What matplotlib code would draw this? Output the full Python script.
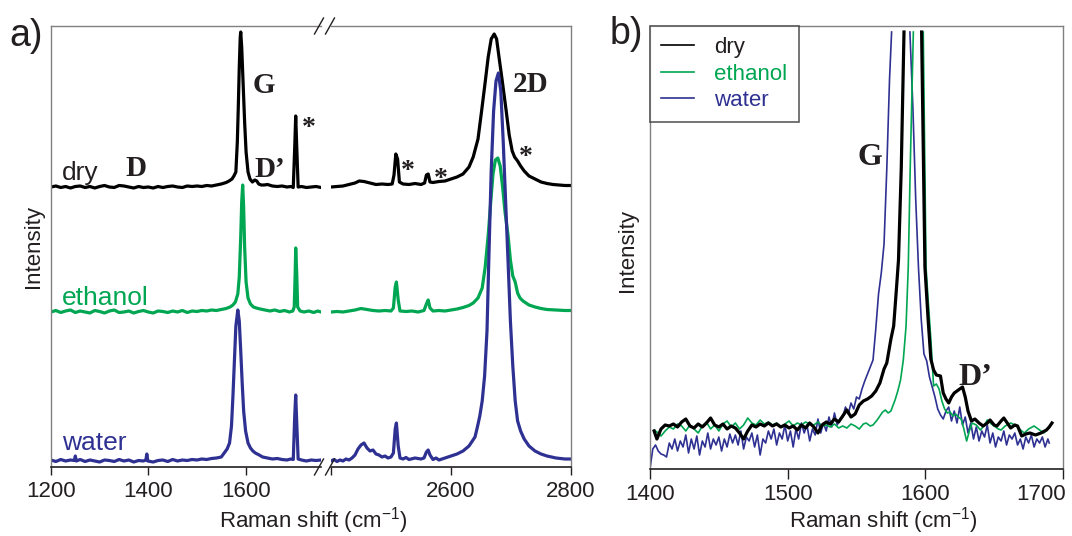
import numpy as np
import matplotlib
matplotlib.use('Agg')
import matplotlib.pyplot as plt
from matplotlib.lines import Line2D
from matplotlib.transforms import ScaledTranslation

plt.rcParams['font.family'] = 'Liberation Sans'
plt.rcParams['mathtext.fontset'] = 'custom'
plt.rcParams['mathtext.rm'] = 'Liberation Sans'
plt.rcParams['mathtext.it'] = 'Liberation Sans:italic'

BLACK = '#000000'
GREEN = '#00a651'
BLUE = '#2e3192'
TEXT = '#231f20'
GRAY = '#808080'

# ---- panel a, low wavenumber part (1200-1755 cm-1), intensity above own baseline ----
dry_l_x = [1200, 1210, 1220, 1230, 1240, 1250, 1260, 1270, 1280, 1290,
           1300, 1310, 1320, 1330, 1340, 1350, 1360, 1370, 1380, 1390,
           1400, 1410, 1420, 1430, 1440, 1450, 1460, 1470, 1480, 1490,
           1500, 1510, 1520, 1530, 1540, 1550, 1560, 1566, 1572, 1576,
           1580, 1583, 1585, 1587, 1589, 1590, 1592, 1594, 1596, 1598,
           1601, 1605, 1609, 1614, 1619, 1623, 1627, 1632, 1638, 1645,
           1655, 1665, 1675, 1685, 1693, 1698, 1701, 1703, 1705, 1708,
           1715, 1725, 1735, 1745, 1755]
dry_l_y = [0, 1, -0.5, 0.5, -1, 0.5, 1, -0.5, 0.5, -1,
           0.5, 1.5, 0, -0.5, 1.5, 1, 0, -1, 0.5, -0.5,
           0, -1, 0.5, -0.5, 0.5, 1, 0, -0.5, 1, 0.5,
           1, 0.5, 1.5, 1, 2, 3, 4.5, 6, 8, 11,
           15, 45, 80, 120, 150, 155, 140, 115, 90, 65,
           35, 15, 8, 5, 7, 6, 3, 2, 2, 2.5,
           1, 0.5, 1, 0, 0.5, -0.5, 40, 71, 42, 0,
           0.5, -0.5, 0, 0.5, -0.5]

eth_l_x = [1200, 1210, 1220, 1230, 1240, 1250, 1260, 1270, 1280, 1290,
           1300, 1310, 1320, 1330, 1340, 1350, 1360, 1370, 1380, 1390,
           1400, 1410, 1420, 1430, 1440, 1450, 1460, 1470, 1480, 1490,
           1500, 1510, 1520, 1530, 1540, 1550, 1560, 1568, 1574, 1579,
           1584, 1587, 1590, 1592, 1594, 1596, 1598, 1601, 1605, 1610,
           1616, 1622, 1630, 1640, 1650, 1660, 1670, 1680, 1690, 1697,
           1700, 1702, 1703, 1705, 1707, 1712, 1720, 1730, 1740, 1748,
           1755]
eth_l_y = [0, 1.5, -0.5, 1, 2, -0.5, 1, 0, -1, 1.5,
           0.5, -1, 1, 2, -0.5, 0, 1, -1, 0.5, 1.5,
           0, -1, 1, 0.5, -0.5, 1, 0, 1.5, -0.5, 1,
           0.5, 1.5, 1, 2, 1.5, 2.5, 3.5, 5, 7, 10,
           18, 35, 75, 110, 127, 105, 65, 30, 14, 8,
           5, 4, 3, 2, 1, 2, 0.5, 1.5, 0, 1,
           5, 40, 64, 40, 5, 1, 0, 1, -0.5, 1,
           0]

wat_l_x = [1200, 1210, 1220, 1230, 1240, 1248, 1250, 1252, 1260, 1270,
           1280, 1290, 1300, 1310, 1320, 1330, 1340, 1350, 1360, 1370,
           1380, 1390, 1395, 1397, 1399, 1410, 1420, 1430, 1440, 1450,
           1460, 1470, 1480, 1490, 1500, 1510, 1520, 1530, 1540, 1550,
           1556, 1562, 1567, 1571, 1574, 1577, 1580, 1584, 1587, 1590,
           1593, 1596, 1600, 1605, 1610, 1615, 1620, 1628, 1635, 1645,
           1655, 1665, 1675, 1685, 1693, 1698, 1701, 1703, 1705, 1708,
           1715, 1725, 1735, 1745, 1755]
wat_l_y = [1, -0.5, 1.5, 0, 1, 0.5, 5, 0, 1.5, -0.5,
           1, 0, -1, 1, 0.5, -0.5, 1.5, 0, 1, -1,
           0.5, 0, 1, 7, 0, -1, 0.5, 1, -0.5, 1.5,
           0, 1, 0.5, 1.5, 1, 2, 1.5, 2.5, 3, 4,
           8, 12, 18, 35, 65, 100, 135, 151, 140, 110,
           78, 50, 30, 18, 13, 10, 8, 6, 4, 3,
           2, 2.5, 1.5, 1, 2, 1.5, 45, 66, 40, 2,
           1, 0, 1, 0.5, 1]

# ---- panel a, 2D region (2400-2800 cm-1) ----
dry_r_x = [2400, 2410, 2420, 2430, 2440, 2447, 2455, 2465, 2475, 2485,
           2495, 2502, 2505, 2508, 2511, 2514, 2520, 2530, 2540, 2550,
           2556, 2559, 2562, 2565, 2570, 2580, 2590, 2600, 2610, 2620,
           2630, 2637, 2645, 2651, 2657, 2662, 2667, 2672, 2676, 2680,
           2685, 2692, 2697, 2702, 2706, 2711, 2716, 2722, 2730, 2740,
           2750, 2760, 2770, 2780, 2790, 2800]
dry_r_y = [0, 0.5, 1, 2.5, 4, 6, 5.5, 4, 2.5, 3,
           2.5, 3, 12, 33, 28, 5, 3, 2.5, 3.5, 2.5,
           4, 12, 13, 5, 4.5, 5.5, 6, 8, 10, 13,
           20, 30, 48, 76, 105, 130, 148, 153, 148, 130,
           108, 76, 52, 36, 30, 26, 21, 16, 11, 8,
           5, 3.5, 2.5, 2, 1.5, 1.5]

eth_r_x = [2400, 2410, 2420, 2430, 2440, 2450, 2460, 2470, 2480, 2490,
           2500, 2504, 2507, 2509, 2512, 2515, 2525, 2535, 2545, 2555,
           2559, 2562, 2565, 2570, 2580, 2590, 2600, 2610, 2620, 2630,
           2637, 2645, 2652, 2657, 2662, 2666, 2670, 2674, 2678, 2682,
           2686, 2690, 2695, 2699, 2703, 2707, 2711, 2715, 2720, 2730,
           2740, 2750, 2760, 2775, 2790, 2800]
eth_r_y = [0, 0.5, 0, 1, 2, 3.5, 2.5, 1.5, 1, 1.5,
           1, 4, 25, 30, 12, 1, 0.5, 1, 0, 1.5,
           8, 12, 4, 1, 1.5, 1, 2, 3, 4.5, 6.5,
           9, 14, 24, 45, 77, 108, 138, 152, 154, 146,
           125, 100, 77, 52, 36, 30, 19, 14, 11, 7,
           5, 3.5, 2.5, 2, 1.5, 1.5]

wat_r_x = [2400, 2405, 2410, 2415, 2420, 2425, 2430, 2435, 2440, 2445,
           2450, 2455, 2460, 2465, 2470, 2475, 2480, 2485, 2490, 2495,
           2500, 2504, 2507, 2509, 2512, 2515, 2520, 2525, 2530, 2540,
           2550, 2555, 2559, 2562, 2565, 2570, 2575, 2580, 2590, 2600,
           2610, 2620, 2630, 2640, 2644, 2648, 2652, 2656, 2660, 2663,
           2667, 2671, 2675, 2679, 2683, 2687, 2691, 2695, 2699, 2703,
           2707, 2711, 2716, 2722, 2730, 2740, 2750, 2760, 2775, 2790,
           2800]
wat_r_y = [0, 1.5, -0.5, 1, 0, 2, 1, 3, 6, 12,
           16, 18, 13, 10, 11, 7, 6, 4, 5, 3,
           4, 8, 32, 38, 15, 3, 2, 3.5, 1.5, 3,
           2, 3, 9, 11, 6, 1.5, 3, 1, 3, 5,
           7, 10, 15, 24, 34, 45, 60, 85, 130, 201,
           290, 350, 380, 388, 370, 320, 260, 201, 140, 95,
           60, 40, 30, 22, 15, 10, 7, 5, 3, 2,
           2]

# vertical offsets of the stacked spectra in panel a
off_dry, off_eth, off_wat = 280, 155, 6

# ---- panel b, zoom on G / D' (nan = top of peak off scale) ----
dry_b_x = [1403, 1405, 1408, 1411, 1414, 1417, 1420, 1423, 1426, 1429,
           1432, 1435, 1438, 1441, 1444, 1447, 1450, 1453, 1456, 1459,
           1462, 1465, 1468, 1471, 1474, 1477, 1480, 1483, 1486, 1489,
           1492, 1495, 1498, 1501, 1504, 1507, 1510, 1513, 1516, 1519,
           1522, 1525, 1528, 1531, 1534, 1537, 1540, 1543, 1546, 1549,
           1552, 1555, 1558, 1561, 1564, 1567, 1570, 1572, 1575, 1577,
           1579, 1580.5, 1582.5, 1584.5, 1591, 1597.3, 1599.7, 1602, 1604, 1606,
           1608, 1611, 1613, 1615, 1617, 1619, 1621, 1623, 1625, 1627,
           1629, 1631, 1633.5, 1636, 1639, 1642, 1645, 1647, 1650, 1652,
           1655, 1657, 1660, 1662, 1665, 1667, 1670, 1673, 1676, 1680,
           1684, 1688, 1690, 1692]
dry_b_y = [38, 30, 40, 44, 43, 45, 42, 47, 50, 43,
           41, 45, 42, 46, 51, 44, 42, 45, 40, 43,
           41, 36, 30, 38, 44, 42, 45, 43, 46, 43,
           45, 42, 44, 41, 43, 39, 44, 41, 46, 42,
           36, 44, 47, 45, 50, 47, 53, 59, 52, 55,
           64, 68, 70, 73, 78, 86, 100, 106, 130, 143,
           180, 209, 300, 437, np.nan, 437, 202, 150, 110, 99,
           94, 93, 76, 70, 66, 72, 76, 78, 80, 82,
           72, 58, 48, 50, 46, 43, 46, 49, 44, 43,
           48, 51, 45, 41, 44, 43, 33, 35, 36, 34,
           36, 39, 42, 46]

eth_b_x = [1403, 1406, 1408, 1411, 1414, 1417, 1420, 1423, 1426, 1429,
           1432, 1435, 1438, 1441, 1444, 1447, 1450, 1453, 1456, 1459,
           1462, 1465, 1468, 1471, 1474, 1477, 1480, 1483, 1486, 1489,
           1492, 1495, 1498, 1501, 1504, 1507, 1510, 1513, 1516, 1519,
           1522, 1525, 1528, 1531, 1534, 1537, 1540, 1543, 1546, 1549,
           1552, 1555, 1557, 1560, 1562, 1565, 1567, 1569, 1571, 1573,
           1575, 1578, 1580, 1582, 1584, 1586, 1587.6, 1589, 1591.3, 1595,
           1598.5, 1600.5, 1602, 1604, 1606, 1608, 1610, 1612, 1614, 1616,
           1618, 1620, 1622, 1624, 1626, 1628, 1630, 1632, 1634, 1637,
           1640, 1643, 1645, 1648, 1650, 1653, 1655, 1658, 1662, 1665,
           1667, 1670, 1672, 1675, 1679, 1682, 1686, 1689, 1692]
eth_b_y = [39, 36, 33, 38, 42, 40, 45, 43, 38, 44,
           40, 36, 43, 47, 40, 44, 38, 45, 48, 42,
           46, 40, 44, 51, 46, 44, 49, 45, 47, 44,
           46, 42, 45, 48, 43, 46, 44, 47, 45, 44,
           47, 43, 44, 42, 45, 41, 43, 41, 45, 43,
           40, 45, 46, 43, 44, 49, 53, 57, 59, 56,
           58, 69, 78, 89, 109, 143, 202, 300, 437, np.nan,
           437, 202, 170, 130, 83, 85, 80, 68, 60, 56,
           57, 53, 55, 52, 50, 40, 28, 38, 46, 44,
           39, 44, 49, 45, 43, 40, 39, 43, 46, 44,
           42, 38, 36, 40, 43, 40, 36, 40, 46]

wat_b_x = [1400, 1402, 1404, 1406, 1408, 1410, 1412, 1414, 1416, 1418,
           1420, 1422, 1424, 1426, 1428, 1430, 1432, 1434, 1436, 1438,
           1440, 1442, 1444, 1446, 1448, 1450, 1452, 1454, 1456, 1458,
           1460, 1462, 1464, 1466, 1468, 1470, 1472, 1474, 1476, 1478,
           1480, 1482, 1484, 1486, 1488, 1490, 1492, 1494, 1496, 1498,
           1500, 1502, 1504, 1506, 1508, 1510, 1512, 1514, 1516, 1518,
           1520, 1522, 1524, 1526, 1528, 1530, 1532, 1534, 1536, 1538,
           1540, 1542, 1544, 1546, 1548, 1550, 1552, 1554, 1556, 1558,
           1560, 1562, 1564, 1566, 1568, 1570, 1572, 1574, 1575.5, 1582,
           1588.8, 1591, 1593, 1595, 1597, 1599, 1601, 1603, 1605, 1607,
           1609, 1611, 1613, 1615, 1617, 1619, 1621, 1623, 1625, 1627,
           1629, 1631, 1633, 1635, 1637, 1639, 1641, 1643, 1645, 1647,
           1649, 1651, 1653, 1655, 1657, 1659, 1661, 1663, 1665, 1667,
           1669, 1671, 1673, 1675, 1677, 1679, 1681, 1683, 1685, 1687,
           1689, 1690]
wat_b_y = [0, 20, 24, 18, 15, 14, 12, 26, 20, 30,
           18, 28, 22, 34, 16, 30, 20, 33, 14, 28,
           22, 36, 20, 30, 24, 32, 18, 30, 22, 35,
           26, 34, 24, 38, 20, 32, 28, 36, 22, 34,
           14, 30, 26, 38, 30, 40, 24, 36, 30, 44,
           28, 38, 22, 40, 30, 46, 36, 44, 28, 40,
           34, 50, 36, 46, 38, 52, 42, 56, 44, 50,
           52, 62, 55, 66, 60, 72, 70, 80, 88, 95,
           102, 109, 140, 175, 196, 225, 300, 390, 437, np.nan,
           437, 360, 270, 202, 150, 115, 108, 92, 82, 72,
           60, 54, 50, 58, 62, 48, 58, 46, 62, 44,
           52, 36, 46, 30, 42, 28, 38, 32, 44, 26,
           36, 22, 32, 28, 38, 24, 34, 30, 36, 24,
           30, 20, 32, 26, 34, 22, 30, 26, 32, 22,
           30, 26]

W, H = 1072, 536
fig = plt.figure(figsize=(W / 100, H / 100), dpi=100)


def rect(x0, y0, x1, y1):
    return [x0 / W, 1 - y1 / H, (x1 - x0) / W, (y1 - y0) / H]


ax1 = fig.add_axes(rect(51, 26, 321, 467))
ax2 = fig.add_axes(rect(331, 26, 571, 467))
axb = fig.add_axes(rect(650, 26, 1063, 469))

thick = dict(lw=2.3, solid_joinstyle='round', solid_capstyle='round')
for ax, parts in [(ax1, [(dry_l_x, dry_l_y, off_dry, BLACK),
                         (eth_l_x, eth_l_y, off_eth, GREEN),
                         (wat_l_x, wat_l_y, off_wat, BLUE)]),
                  (ax2, [(dry_r_x, dry_r_y, off_dry, BLACK),
                         (eth_r_x, eth_r_y, off_eth, GREEN),
                         (wat_r_x, wat_r_y, off_wat, BLUE)])]:
    for x, y, off, c in parts:
        ax.plot(x, np.array(y) + off, color=c, **thick)
    ax.set_ylim(0, 441)
    ax.set_yticks([])
    for s in ['top', 'left', 'right']:
        ax.spines[s].set_color(GRAY)
        ax.spines[s].set_linewidth(1.0)
    ax.spines['bottom'].set_color(TEXT)
    ax.spines['bottom'].set_linewidth(1.2)
    ax.tick_params(axis='x', direction='out', length=6, width=1.0,
                   colors=TEXT, labelsize=16, pad=4)

ax1.set_xlim(1200, 1755)
ax2.set_xlim(2400, 2800)
ax1.spines['right'].set_visible(False)
ax2.spines['left'].set_visible(False)
ax1.set_xticks([1200, 1400, 1600])
ax2.set_xticks([2400, 2600, 2800])
ax2.set_xticklabels(['', '2600', '2800'])

# axis break marks
for xc in [319, 330]:
    for yc in [26, 467]:
        fig.add_artist(Line2D([(xc - 4.5) / W, (xc + 4.5) / W],
                              [1 - (yc + 8) / H, 1 - (yc - 8) / H],
                              color=TEXT, lw=1.0))

# panel a labels
lab = dict(fontsize=19, va='baseline')
ax1.text(1222, 287, 'dry', color=TEXT, **lab)
ax1.text(1222, 162, 'ethanol', color=GREEN, **lab)
ax1.text(1222, 17, 'water', color=BLUE, **lab)

pk = dict(family='Liberation Serif', weight='bold', color=TEXT, va='baseline')
ax1.text(1352, 291, 'D', fontsize=21, **pk)
ax1.text(1615, 374, 'G', fontsize=21, **pk)
ax1.text(1619, 290, 'D\u2019', fontsize=21, **pk)
ax1.text(1716, 332, '*', fontsize=20, **pk)
ax2.text(2517, 289, '*', fontsize=20, **pk)
ax2.text(2572, 281, '*', fontsize=20, **pk)
ax2.text(2713, 303, '*', fontsize=20, **pk)
ax2.text(2703, 375, '2D', fontsize=21, **pk)

# panel b
axb.plot(wat_b_x, wat_b_y, color=BLUE, lw=1.2)
axb.plot(eth_b_x, eth_b_y, color=GREEN, lw=1.2)
axb.plot(dry_b_x, dry_b_y, color=BLACK, lw=2.3, solid_joinstyle='round')
axb.set_xlim(1400, 1700)
axb.set_ylim(0, 443)
axb.set_yticks([])
axb.set_xticks([1400, 1500, 1600, 1700])
for s in ['top', 'left', 'right']:
    axb.spines[s].set_color(GRAY)
    axb.spines[s].set_linewidth(1.0)
axb.spines['bottom'].set_color(TEXT)
axb.spines['bottom'].set_linewidth(1.2)
axb.tick_params(axis='x', direction='out', length=7.5, width=1.0,
                colors=TEXT, labelsize=16, pad=3)
# last tick label is pulled in so it stays inside the figure
last = axb.get_xticklabels()[-1]
last.set_transform(last.get_transform() +
                   ScaledTranslation(-0.22, 0, fig.dpi_scale_trans))
axb.text(1551, 304, 'G', fontsize=23, **pk)
axb.text(1623.7, 84, 'D\u2019', fontsize=23, **pk)

handles = [Line2D([], [], color=BLACK, lw=1.2),
           Line2D([], [], color=GREEN, lw=1.2),
           Line2D([], [], color=BLUE, lw=1.2)]
leg = axb.legend(handles, ['dry', 'ethanol', 'water'], loc='upper left',
                 bbox_to_anchor=(0, 1), borderaxespad=0, fancybox=False,
                 edgecolor='#333333', fontsize=16, handlelength=1.5,
                 handletextpad=0.9, labelspacing=0.25, borderpad=0.5,
                 labelcolor=[TEXT, GREEN, BLUE])
leg.get_frame().set_linewidth(1.2)

# axis titles
fig.text(313 / W, 1 - 528 / H, 'Raman shift (cm$^{-1}$)', fontsize=16,
         color=TEXT, ha='center', va='baseline')
fig.text(883 / W, 1 - 528 / H, 'Raman shift (cm$^{-1}$)', fontsize=16,
         color=TEXT, ha='center', va='baseline')
fig.text(33 / W, 1 - 247 / H, 'Intensity', fontsize=16, color=TEXT,
         rotation=90, ha='center', va='center')
fig.text(627 / W, 1 - 250 / H, 'Intensity', fontsize=16, color=TEXT,
         rotation=90, ha='center', va='center')
fig.text(9 / W, 1 - 46 / H, 'a)', fontsize=27, color=TEXT, va='baseline')
fig.text(610 / W, 1 - 44 / H, 'b)', fontsize=27, color=TEXT, va='baseline')

fig.savefig('out.png', dpi=100)
